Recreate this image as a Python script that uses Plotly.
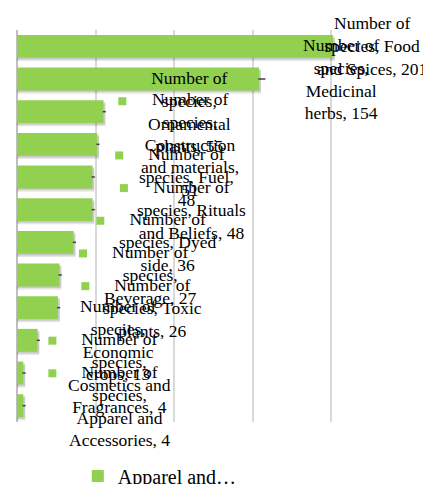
import plotly.graph_objects as go

series_name = "Number of species"
categories = ["Food and Spices", "Medicinal herbs", "Ornamental plants",
              "Construction and materials", "Fuel", "Rituals and Beliefs",
              "Dyed side", "Beverage", "Toxic plants", "Economic crops",
              "Cosmetics and Fragrances", "Apparel and Accessories"]
values = [201, 154, 55, 51, 48, 48, 36, 27, 26, 13, 4, 4]

# how Excel wrapped each data label
label_lines = [
    ["Number of", "species, Food", "and Spices, 201"],
    ["Number of", "species,", "Medicinal", "herbs, 154"],
    ["Number of", "species,", "Ornamental", "plants, 55"],
    ["Number of", "species,", "Construction", "and materials,", "51"],
    ["Number of", "species, Fuel,", "48"],
    ["Number of", "species, Rituals", "and Beliefs, 48"],
    ["Number of", "species, Dyed", "side, 36"],
    ["Number of", "species,", "Beverage, 27"],
    ["Number of", "species, Toxic", "plants, 26"],
    ["Number of", "species,", "Economic", "crops, 13"],
    ["Number of", "species,", "Cosmetics and", "Fragrances, 4"],
    ["Number of", "species,", "Apparel and", "Accessories, 4"],
]
label_x = [226, 206, 110, 110, 108, 111, 96, 85, 86.5, 64, 65.5, 65.5]
leader_len = [0, 4, 1.5, 1.5, 1.5, 1.5, 1.5, 1.5, 1.5, 1.5, 1.5, 1.5]

GREEN = "#92D050"
FONT = "Liberation Serif"
idx = list(range(len(categories)))

fig = go.Figure()

# soft shadow under the bars
for off, alpha in [(0.1, 0.10), (0.05, 0.12)]:
    fig.add_trace(go.Bar(
        x=[v + 1.2 for v in values], y=idx, orientation="h",
        width=0.7, offset=-0.35 + off,
        marker=dict(color=f"rgba(0,0,0,{alpha})", line=dict(width=0)),
        showlegend=False, hoverinfo="skip"))

fig.add_trace(go.Bar(
    x=values, y=idx, orientation="h", width=0.7,
    name="Apparel and…", customdata=categories,
    marker=dict(color=GREEN, line=dict(width=0)),
    showlegend=True))

# leader line stubs at bar ends
lx, ly = [], []
for i, v in enumerate(values):
    if leader_len[i] > 0:
        lx += [v - 0.5, v + leader_len[i], None]
        ly += [i, i, None]
fig.add_trace(go.Scatter(x=lx, y=ly, mode="lines",
                         line=dict(color="#404040", width=1.5),
                         showlegend=False, hoverinfo="skip"))

# legend keys inside the data labels
fig.add_trace(go.Scatter(
    x=[lx_ - 43 for lx_ in label_x],
    y=[i - (len(label_lines[i]) - 1) * 0.33 for i in idx],
    mode="markers", marker=dict(symbol="square", size=8, color=GREEN),
    showlegend=False, hoverinfo="skip", cliponaxis=False))

for i in idx:
    fig.add_annotation(x=label_x[i], y=i, xref="x", yref="y",
                       text="<br>".join(label_lines[i]), showarrow=False,
                       xanchor="center", yanchor="middle", align="center",
                       font=dict(family=FONT, size=17.5, color="#000000"))

fig.update_layout(
    width=431, height=484,
    margin=dict(l=9, r=29, t=22, b=70, autoexpand=False),
    barmode="overlay",
    plot_bgcolor="white", paper_bgcolor="white",
    font=dict(family=FONT, color="#000000"),
    legend=dict(orientation="h", xref="container", x=0.162, xanchor="left",
                yref="container", y=0.033, yanchor="middle",
                font=dict(family=FONT, size=20, color="#000000"),
                bgcolor="rgba(0,0,0,0)"),
)
fig.update_xaxes(range=[0, 250], dtick=50, showticklabels=False,
                 showgrid=True, gridcolor="#D9D9D9", gridwidth=2,
                 zeroline=True, zerolinecolor="#BFBFBF", zerolinewidth=2,
                 showline=False, ticks="")
fig.update_yaxes(range=[11.5, -0.5], tickvals=idx, ticktext=categories,
                 showticklabels=False, showgrid=False, zeroline=False,
                 showline=False, ticks="")

fig.write_html("out.html")
